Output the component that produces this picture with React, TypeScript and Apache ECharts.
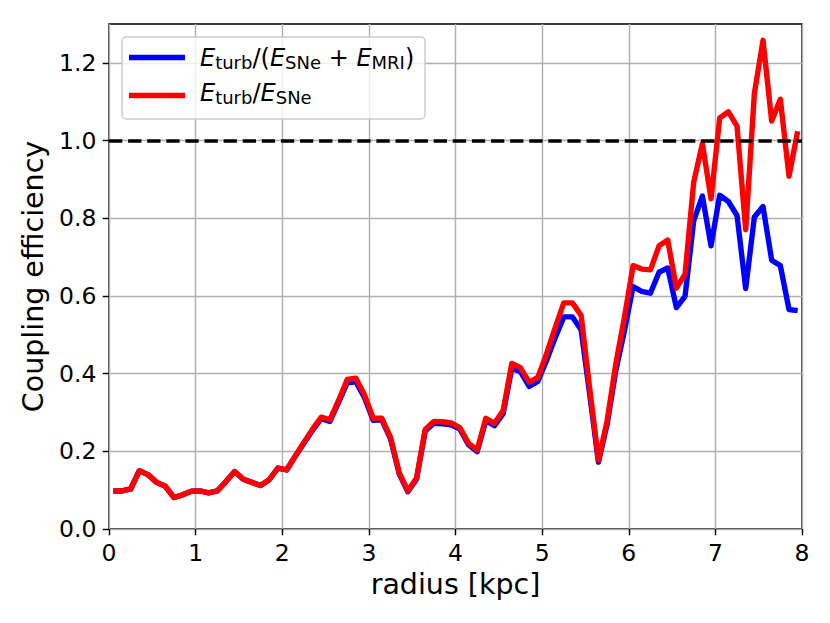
import React, { useEffect, useRef } from 'react';
import * as echarts from 'echarts';

const radius = [
  0.05, 0.15, 0.25, 0.35, 0.45, 0.55, 0.65, 0.75, 0.85, 0.95,
  1.05, 1.15, 1.25, 1.35, 1.45, 1.55, 1.65, 1.75, 1.85, 1.95,
  2.05, 2.15, 2.25, 2.35, 2.45, 2.55, 2.65, 2.75, 2.85, 2.95,
  3.05, 3.15, 3.25, 3.35, 3.45, 3.55, 3.65, 3.75, 3.85, 3.95,
  4.05, 4.15, 4.25, 4.35, 4.45, 4.55, 4.65, 4.75, 4.85, 4.95,
  5.05, 5.15, 5.25, 5.35, 5.45, 5.55, 5.65, 5.75, 5.85, 5.95,
  6.05, 6.15, 6.25, 6.35, 6.45, 6.55, 6.65, 6.75, 6.85, 6.95,
  7.05, 7.15, 7.25, 7.35, 7.45, 7.55, 7.65, 7.75, 7.85, 7.95,
];

const effTotal = [
  0.098, 0.098, 0.103, 0.150, 0.140, 0.120, 0.110, 0.081, 0.088, 0.097,
  0.098, 0.093, 0.098, 0.122, 0.148, 0.128, 0.120, 0.112, 0.127, 0.157,
  0.152, 0.187, 0.221, 0.254, 0.284, 0.277, 0.326, 0.376, 0.379, 0.338,
  0.280, 0.281, 0.232, 0.142, 0.096, 0.128, 0.252, 0.272, 0.271, 0.268,
  0.257, 0.217, 0.199, 0.279, 0.266, 0.297, 0.414, 0.405, 0.367, 0.380,
  0.433, 0.492, 0.546, 0.546, 0.513, 0.345, 0.172, 0.269, 0.407, 0.510,
  0.624, 0.612, 0.607, 0.661, 0.672, 0.570, 0.599, 0.794, 0.857, 0.729,
  0.859, 0.843, 0.807, 0.619, 0.803, 0.830, 0.692, 0.678, 0.565, 0.562,
];

const effSNe = [
  0.098, 0.098, 0.103, 0.150, 0.140, 0.120, 0.110, 0.081, 0.088, 0.097,
  0.098, 0.093, 0.098, 0.122, 0.148, 0.128, 0.120, 0.112, 0.127, 0.157,
  0.152, 0.188, 0.223, 0.257, 0.288, 0.281, 0.331, 0.385, 0.388, 0.345,
  0.285, 0.285, 0.236, 0.145, 0.098, 0.131, 0.256, 0.277, 0.276, 0.273,
  0.261, 0.221, 0.203, 0.285, 0.272, 0.305, 0.426, 0.415, 0.378, 0.390,
  0.450, 0.518, 0.582, 0.582, 0.550, 0.360, 0.177, 0.278, 0.424, 0.545,
  0.678, 0.669, 0.667, 0.729, 0.744, 0.620, 0.656, 0.893, 0.992, 0.850,
  1.058, 1.074, 1.037, 0.770, 1.121, 1.258, 1.050, 1.106, 0.908, 1.024,
];

const yTicks = [0, 0.2, 0.4, 0.6, 0.8, 1.0, 1.2];
const referenceLevel = 1.0;

const FONT = 'DejaVu Sans';

export default function App() {
  const ref = useRef<HTMLDivElement>(null);

  useEffect(() => {
    document.body.style.margin = '0';
    const chart = echarts.init(ref.current!, null, { renderer: 'svg' });

    const totalData = radius.map((r, i) => [r, effTotal[i]]);
    const sneData = radius.map((r, i) => [r, effSNe[i]]);

    const mainTok = { fontFamily: FONT, fontSize: 24, lineHeight: 26, fill: '#000', color: '#000' };
    const italTok = { ...mainTok, fontStyle: 'italic' };
    const subTok = { fontFamily: FONT, fontSize: 18, lineHeight: 16, verticalAlign: 'bottom', fill: '#000', color: '#000' };
    const rich = { e: italTok, n: mainTok, s: subTok };

    chart.setOption({
      animation: false,
      grid: {
        left: 109,
        right: 28,
        top: 24,
        bottom: 94,
        containLabel: false,
        outerBoundsMode: 'none',
        show: true,
        borderColor: '#000',
        borderWidth: 1.44,
        backgroundColor: 'transparent',
      },
      xAxis: {
        type: 'value',
        min: 0,
        max: 8,
        interval: 1,
        name: 'radius [kpc]',
        nameLocation: 'middle',
        nameGap: 41,
        nameTextStyle: { fontFamily: FONT, fontSize: 28.5, color: '#000' },
        axisLine: { show: false },
        axisTick: { show: true, inside: false, length: 6.3, lineStyle: { color: '#000', width: 1.44 } },
        axisLabel: { fontFamily: FONT, fontSize: 23.5, color: '#000', margin: 11.5 },
        splitLine: { show: true, lineStyle: { color: '#b0b0b0', width: 1.44 } },
      },
      yAxis: {
        type: 'value',
        min: 0,
        max: 1.3,
        interval: 0.2,
        name: 'Coupling efficiency',
        nameLocation: 'middle',
        nameRotate: 90,
        nameGap: 60,
        nameTextStyle: { fontFamily: FONT, fontSize: 28.5, color: '#000' },
        axisLine: { show: false },
        axisTick: {
          show: true,
          inside: false,
          length: 6.3,
          customValues: yTicks,
          lineStyle: { color: '#000', width: 1.44 },
        },
        axisLabel: {
          fontFamily: FONT,
          fontSize: 23.5,
          color: '#000',
          margin: 12.6,
          customValues: yTicks,
          formatter: (v: number) => v.toFixed(1),
        },
        splitLine: { show: true, lineStyle: { color: '#b0b0b0', width: 1.44 } },
      },
      series: [
        {
          type: 'line',
          data: totalData,
          symbol: 'none',
          lineStyle: { color: '#0000ff', width: 5.4, join: 'round', cap: 'butt' },
          itemStyle: { color: '#0000ff' },
          z: 2,
        },
        {
          type: 'line',
          data: sneData,
          symbol: 'none',
          lineStyle: { color: '#ff0000', width: 5.4, join: 'round', cap: 'butt' },
          itemStyle: { color: '#ff0000' },
          z: 3,
          markLine: {
            silent: true,
            symbol: 'none',
            label: { show: false },
            lineStyle: { color: '#000', type: [13.3, 5.8], width: 3.6 },
            data: [{ yAxis: referenceLevel }],
          },
        },
      ],
      graphic: [
        {
          type: 'rect',
          z: 100,
          shape: { x: 122, y: 37, width: 303, height: 82, r: 4 },
          style: { fill: 'rgba(255,255,255,0.8)', stroke: '#cccccc', lineWidth: 1.44 },
        },
        {
          type: 'line',
          z: 101,
          shape: { x1: 129, y1: 57.5, x2: 185, y2: 57.5 },
          style: { stroke: '#0000ff', lineWidth: 5.4 },
        },
        {
          type: 'line',
          z: 101,
          shape: { x1: 129, y1: 95.5, x2: 185, y2: 95.5 },
          style: { stroke: '#ff0000', lineWidth: 5.4 },
        },
        {
          type: 'text',
          z: 101,
          x: 200,
          y: 45.4,
          style: {
            text: '{e|E}{s|turb}{n|/(}{e|E}{s|SNe}{n| + }{e|E}{s|MRI}{n|)}',
            fontFamily: FONT,
            fontSize: 24,
            verticalAlign: 'top',
            align: 'left',
            fill: '#000',
            rich,
          },
        },
        {
          type: 'text',
          z: 101,
          x: 200,
          y: 80.4,
          style: {
            text: '{e|E}{s|turb}{n|/}{e|E}{s|SNe}',
            fontFamily: FONT,
            fontSize: 24,
            verticalAlign: 'top',
            align: 'left',
            fill: '#000',
            rich,
          },
        },
      ],
    });

    return () => chart.dispose();
  }, []);

  return (
    <div
      ref={ref}
      style={{ position: 'absolute', left: 0, top: 0, width: 830, height: 623 }}
    />
  );
}
